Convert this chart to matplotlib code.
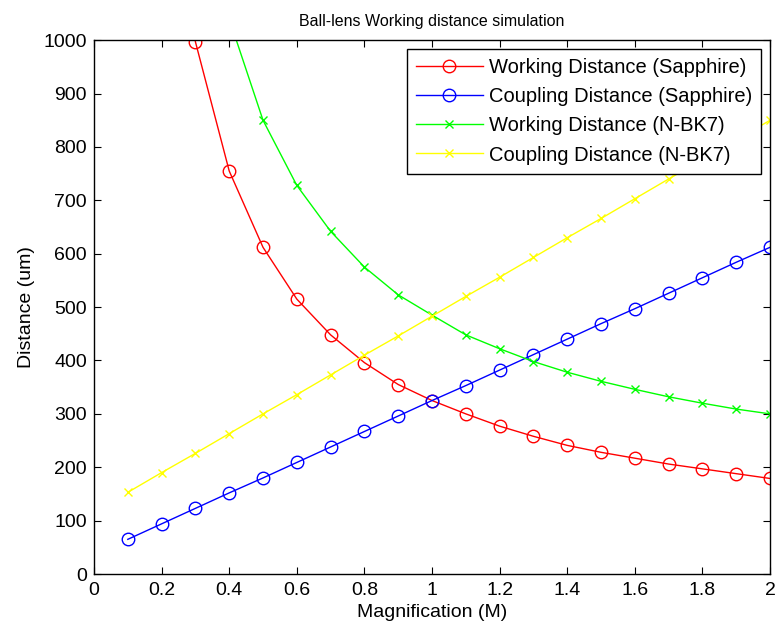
import matplotlib
matplotlib.use('Agg')
import matplotlib.pyplot as plt

# magnification values
mag = [0.1, 0.2, 0.3, 0.4, 0.5, 0.6, 0.7, 0.8, 0.9, 1.0,
       1.1, 1.2, 1.3, 1.4, 1.5, 1.6, 1.7, 1.8, 1.9, 2.0]

# distances in um
wd_sapphire = [2950, 1480, 997, 755, 612, 515, 448, 396, 355, 325,
               300, 277, 258, 241, 228, 217, 206, 197, 188, 179]
cd_sapphire = [65, 94, 123, 152, 180, 209, 238, 267, 296, 325,
               353, 382, 411, 440, 469, 497, 526, 555, 584, 612]
wd_bk7 = [3815, 1965, 1348, 1040, 850, 728, 642, 575, 523, 485,
          448, 422, 398, 378, 361, 346, 332, 320, 309, 300]
cd_bk7 = [153, 190, 226, 263, 300, 336, 373, 410, 446, 483,
          520, 556, 593, 630, 666, 703, 740, 776, 813, 850]

xticks = [0, 0.2, 0.4, 0.6, 0.8, 1, 1.2, 1.4, 1.6, 1.8, 2]
xticklabels = ['0', '0.2', '0.4', '0.6', '0.8', '1', '1.2', '1.4', '1.6', '1.8', '2']
yticks = list(range(0, 1001, 100))

plt.rcParams['font.family'] = ['Liberation Sans', 'DejaVu Sans']

fig = plt.figure(figsize=(7.77, 6.34), dpi=100)
ax = fig.add_axes([0.121, 0.0946, 0.870, 0.842])

ax.plot(mag, wd_sapphire, '-o', color='red', lw=1, ms=9, mfc='none', mew=1,
        label='Working Distance (Sapphire)')
ax.plot(mag, cd_sapphire, '-o', color='blue', lw=1, ms=9, mfc='none', mew=1,
        label='Coupling Distance (Sapphire)')
ax.plot(mag, wd_bk7, '-x', color=(0, 1, 0), lw=1, ms=5.5, mew=1,
        label='Working Distance (N-BK7)')
ax.plot(mag, cd_bk7, '-x', color=(1, 1, 0), lw=1, ms=5.5, mew=1,
        label='Coupling Distance (N-BK7)')

ax.set_xlim(0, 2)
ax.set_ylim(0, 1000)
ax.set_xticks(xticks)
ax.set_xticklabels(xticklabels)
ax.set_yticks(yticks)
ax.tick_params(direction='in', top=True, right=True, length=5, labelsize=14)
ax.tick_params(axis='x', pad=6)
ax.tick_params(axis='y', pad=5)
for s in ax.spines.values():
    s.set_linewidth(1)

ax.set_xlabel('Magnification (M)', fontsize=14, labelpad=3)
ax.set_ylabel('Distance (um)', fontsize=14, labelpad=6)
ax.set_title('Ball-lens Working distance simulation', fontsize=11.5, pad=10)

leg = ax.legend(loc='upper right', prop={'size': 14.5}, fancybox=False,
                framealpha=1, edgecolor='black', handlelength=3.3,
                handletextpad=0.3, borderaxespad=0.45, borderpad=0.45,
                labelspacing=0.5)
leg.get_frame().set_linewidth(1)

plt.savefig('out.png', dpi=100)
